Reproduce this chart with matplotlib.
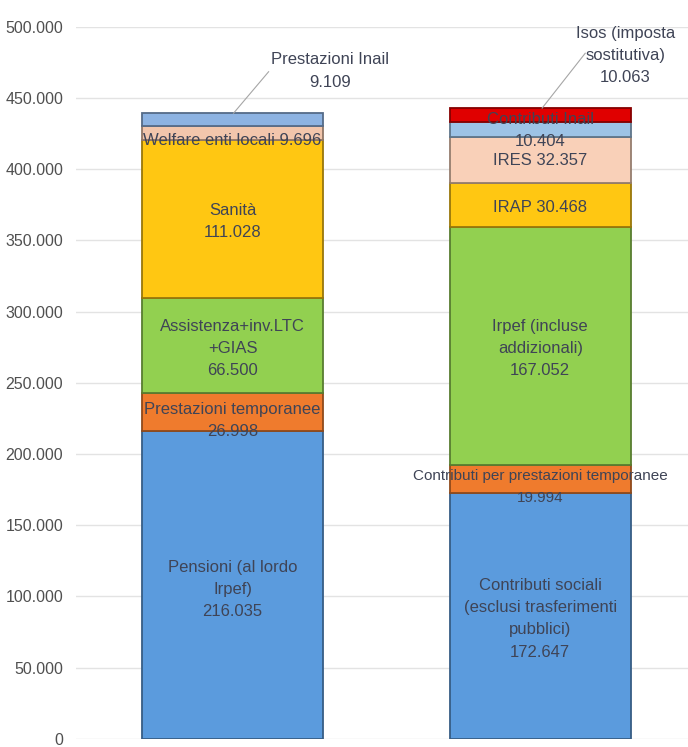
import matplotlib
matplotlib.use("Agg")
import matplotlib.pyplot as plt
from matplotlib.ticker import FuncFormatter

# data (milioni di euro)
bars = ["Spese", "Entrate"]

spese_labels = ["Pensioni (al lordo\nIrpef)", "Prestazioni temporanee", "Assistenza+inv.LTC\n+GIAS",
                "Sanità", "Welfare enti locali", "Prestazioni Inail"]
spese_values = [216.035, 26.998, 66.500, 111.028, 9.696, 9.109]
spese_colors = ["#5B9BDD", "#EF7B2D", "#92D050", "#FFC712", "#F2C6AC", "#8DB3E2"]

entrate_labels = ["Contributi sociali\n(esclusi trasferimenti\npubblici)",
                  "Contributi per prestazioni temporanee", "Irpef (incluse\naddizionali)",
                  "IRAP", "IRES", "Contributi Inail", "Isos (imposta\nsostitutiva)"]
entrate_values = [172.647, 19.994, 167.052, 30.468, 32.357, 10.404, 10.063]
entrate_colors = ["#5B9BDD", "#EF7B2D", "#92D050", "#FFC712", "#F9D0B8", "#9DC3E6", "#E00000"]

yticks = [0, 50, 100, 150, 200, 250, 300, 350, 400, 450, 500]

TXT = "#3F4456"
FAM = ["Liberation Sans", "DejaVu Sans"]


def darker(c, f=0.6):
    r, g, b = matplotlib.colors.to_rgb(c)
    return (r * f, g * f, b * f)


def fmt(v):
    return f"{v:.3f}"


def seg_centers(vals):
    out, b = [], 0
    for v in vals:
        out.append(b + v / 2)
        b += v
    return out


fig = plt.figure(figsize=(6.88, 7.47), dpi=100)
ax = fig.add_axes([0.110, 0.0110, 0.890, 0.9530])

width = 0.588
for xi, vals, cols in [(0, spese_values, spese_colors), (1, entrate_values, entrate_colors)]:
    bottom = 0
    for v, c in zip(vals, cols):
        ax.bar(xi, v, width=width, bottom=bottom, color=c, edgecolor=darker(c), linewidth=1.3, zorder=3)
        bottom += v

tkw = dict(ha="center", va="center", color=TXT, fontsize=12, family=FAM, zorder=5,
           linespacing=1.6)

# left bar labels
sc = seg_centers(spese_values)
offs_l = [-3, -6, -2, -2, -5.5]
for i in range(5):
    sep = " " if i == 4 else "\n"
    ax.text(0, sc[i] + offs_l[i], f"{spese_labels[i]}{sep}{fmt(spese_values[i])}", **tkw)

# right bar labels
ec = seg_centers(entrate_values)
offs_r = [-2, -6, -2, -2, 0, -0.7]
for i in range(6):
    sep = " " if i in (3, 4) else "\n"
    kw = dict(tkw)
    if i == 1:
        kw["fontsize"] = 11
        kw["linespacing"] = 1.75
    ax.text(1, ec[i] + offs_r[i], f"{entrate_labels[i]}{sep}{fmt(entrate_values[i])}", **kw)

# callouts for the thin top segments
top_l = sum(spese_values)
ax.plot([0.003, 0.117], [top_l, 468.5], color="#A6A6A6", lw=0.8, zorder=4)
ax.text(0.318, 469, f"{spese_labels[5]}\n{fmt(spese_values[5])}", **tkw)

top_r = sum(entrate_values)
ax.plot([1.006, 1.146], [top_r, 481.5], color="#A6A6A6", lw=0.8, zorder=4)
ax.text(1.276, 480, f"{entrate_labels[6]}\n{fmt(entrate_values[6])}", clip_on=False, **tkw)

ax.set_xlim(-0.51, 1.48)
ax.set_ylim(0, 500)
ax.set_yticks(yticks)
ax.yaxis.set_major_formatter(FuncFormatter(lambda v, p: "0" if v == 0 else f"{int(v)}.000"))
ax.set_xticks([])
ax.grid(axis="y", color="#E3E3E3", linewidth=1.0, zorder=0)
for s in ax.spines.values():
    s.set_visible(False)
ax.tick_params(axis="y", length=0, pad=9, labelsize=11.5, labelcolor="#505050")
for t in ax.get_yticklabels():
    t.set_family(FAM)

fig.savefig("out.png", dpi=100)
